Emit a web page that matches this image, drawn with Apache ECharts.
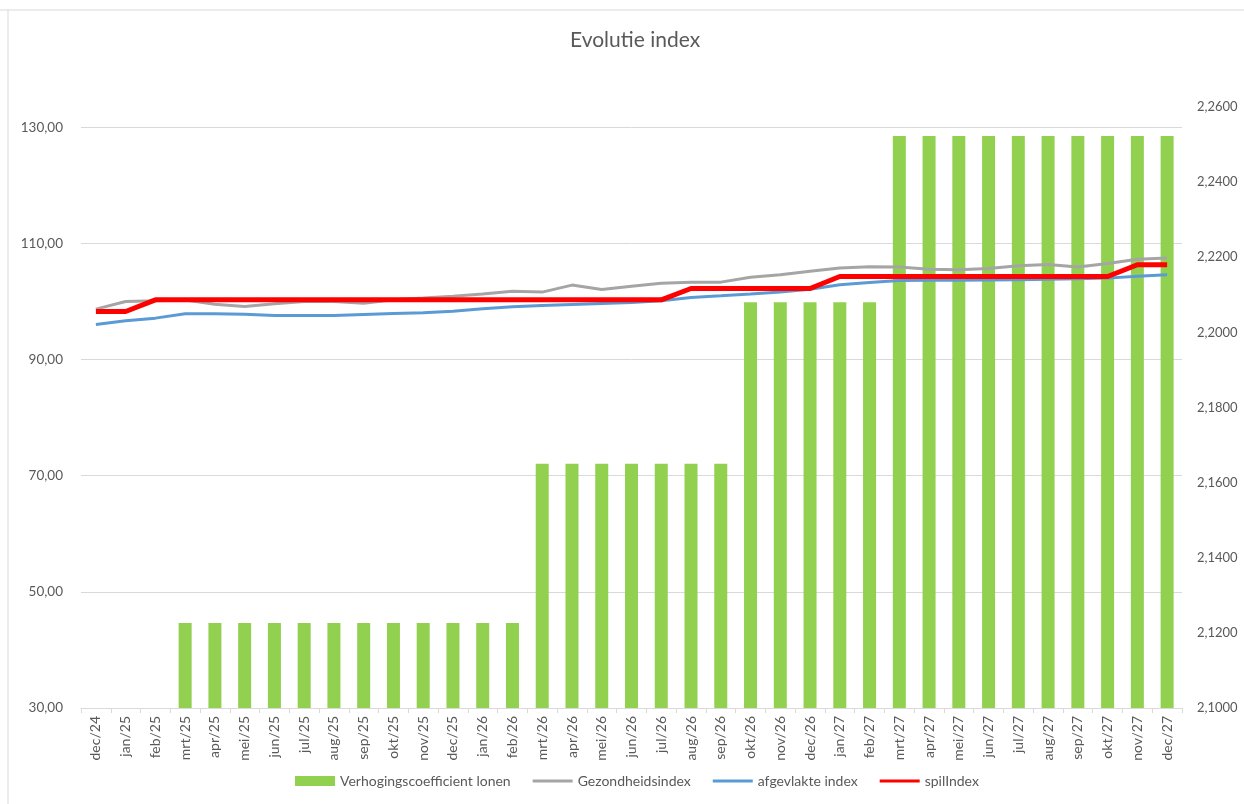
<!DOCTYPE html>
<html>
<head>
<meta charset="utf-8">
<title>Evolutie index</title>
<script src="https://cdn.jsdelivr.net/npm/echarts@6/dist/echarts.min.js"></script>
<style>
  html, body { margin: 0; padding: 0; background: #fff; }
  #chart { width: 1244px; height: 804px; }
</style>
</head>
<body>
<div id="chart"></div>
<script>
const months = [
  'dec/24', 'jan/25', 'feb/25', 'mrt/25', 'apr/25', 'mei/25', 'jun/25', 'jul/25', 'aug/25', 'sep/25',
  'okt/25', 'nov/25', 'dec/25', 'jan/26', 'feb/26', 'mrt/26', 'apr/26', 'mei/26', 'jun/26', 'jul/26',
  'aug/26', 'sep/26', 'okt/26', 'nov/26', 'dec/26', 'jan/27', 'feb/27', 'mrt/27', 'apr/27', 'mei/27',
  'jun/27', 'jul/27', 'aug/27', 'sep/27', 'okt/27', 'nov/27', 'dec/27'
]

// verhogingscoefficient (rechteras)
const coefficient = [
  2.1, 2.1, 2.1, 2.1226, 2.1226, 2.1226, 2.1226, 2.1226, 2.1226, 2.1226,
  2.1226, 2.1226, 2.1226, 2.1226, 2.1226, 2.165, 2.165, 2.165, 2.165, 2.165,
  2.165, 2.165, 2.208, 2.208, 2.208, 2.208, 2.208, 2.2523, 2.2523, 2.2523,
  2.2523, 2.2523, 2.2523, 2.2523, 2.2523, 2.2523, 2.2523
]

const gezondheidsindex = [
  98.69, 100.0, 100.12, 100.25, 99.55, 99.14, 99.6, 100.0, 100.0, 99.72,
  100.29, 100.59, 100.9, 101.28, 101.76, 101.62, 102.83, 102.07, 102.62, 103.14,
  103.34, 103.34, 104.17, 104.6, 105.21, 105.76, 105.98, 105.95, 105.55, 105.47,
  105.67, 106.16, 106.36, 105.93, 106.53, 107.28, 107.5
]

const afgevlakteIndex = [
  96.03, 96.67, 97.14, 97.88, 97.88, 97.83, 97.59, 97.59, 97.59, 97.76,
  97.93, 98.05, 98.34, 98.74, 99.09, 99.31, 99.48, 99.66, 99.83, 100.12,
  100.69, 100.98, 101.28, 101.62, 102.1, 102.88, 103.28, 103.62, 103.66, 103.66,
  103.69, 103.74, 103.83, 103.91, 104.03, 104.34, 104.6
]

const spilindex = [
  98.28, 98.28, 100.29, 100.29, 100.29, 100.29, 100.29, 100.29, 100.29, 100.29,
  100.29, 100.29, 100.29, 100.29, 100.29, 100.29, 100.29, 100.29, 100.29, 100.29,
  102.24, 102.24, 102.24, 102.24, 102.24, 104.31, 104.31, 104.31, 104.31, 104.31,
  104.31, 104.31, 104.31, 104.31, 104.31, 106.33, 106.33
]

const textColor = '#595959'
const gridColor = '#d9d9d9'
const font = 'Lato, "Open Sans", sans-serif'
const lineIcon = 'path://M0,0H40V3H0Z'

const chart = echarts.init(document.getElementById('chart'))
chart.setOption({
  animation: false,
  textStyle: { fontFamily: font },
  title: {
    text: 'Evolutie index',
    left: 565,
    top: 25,
    textStyle: { fontSize: 21, fontWeight: 'normal', color: textColor, fontFamily: font }
  },
  legend: {
    bottom: 11,
    left: 290,
    itemWidth: 40,
    itemHeight: 10,
    itemGap: 22,
    textStyle: { fontSize: 14, color: textColor, fontFamily: font },
    data: [
      { name: 'Verhogingscoefficient lonen', icon: 'rect' },
      { name: 'Gezondheidsindex', icon: lineIcon },
      { name: 'afgevlakte index', icon: lineIcon },
      { name: 'spilIndex', icon: lineIcon }
    ]
  },
  grid: { left: 81, right: 62, top: 107, bottom: 96 },
  xAxis: {
    type: 'category',
    data: months,
    axisLine: { lineStyle: { color: gridColor } },
    axisTick: { show: true, length: 5, lineStyle: { color: gridColor } },
    axisLabel: { rotate: 90, fontSize: 14, color: textColor, margin: 8, interval: 0 }
  },
  yAxis: [
    {
      type: 'value',
      min: 30,
      max: 133.5,
      interval: 20,
      axisLine: { show: false },
      axisTick: { show: false },
      axisLabel: {
        fontSize: 13.5,
        color: textColor,
        margin: 18,
        showMaxLabel: false,
        formatter: v => v.toFixed(2).replace('.', ',')
      },
      splitLine: { showMaxLine: false, showMinLine: false, lineStyle: { color: gridColor, width: 1 } }
    },
    {
      type: 'value',
      min: 2.1,
      max: 2.26,
      interval: 0.02,
      axisLine: { show: false },
      axisTick: { show: false },
      splitLine: { show: false },
      axisLabel: {
        fontSize: 13,
        color: textColor,
        margin: 15,
        formatter: v => v.toFixed(4).replace('.', ',')
      }
    }
  ],
  series: [
    {
      name: 'Verhogingscoefficient lonen',
      type: 'bar',
      yAxisIndex: 1,
      barWidth: 13,
      itemStyle: { color: '#92d050' },
      data: coefficient
    },
    {
      name: 'Gezondheidsindex',
      type: 'line',
      symbol: 'none',
      lineStyle: { color: '#a5a5a5', width: 3 },
      itemStyle: { color: '#a5a5a5' },
      data: gezondheidsindex
    },
    {
      name: 'afgevlakte index',
      type: 'line',
      symbol: 'none',
      lineStyle: { color: '#5b9bd5', width: 3 },
      itemStyle: { color: '#5b9bd5' },
      data: afgevlakteIndex
    },
    {
      name: 'spilIndex',
      type: 'line',
      symbol: 'none',
      lineStyle: { color: '#ff0000', width: 5 },
      itemStyle: { color: '#ff0000' },
      data: spilindex
    }
  ],
  graphic: [
    { type: 'line', shape: { x1: 0, y1: 10, x2: 1244, y2: 10 }, style: { stroke: gridColor, lineWidth: 1 } },
    { type: 'line', shape: { x1: 8, y1: 10, x2: 8, y2: 804 }, style: { stroke: gridColor, lineWidth: 1 } }
  ]
})
</script>
</body>
</html>
